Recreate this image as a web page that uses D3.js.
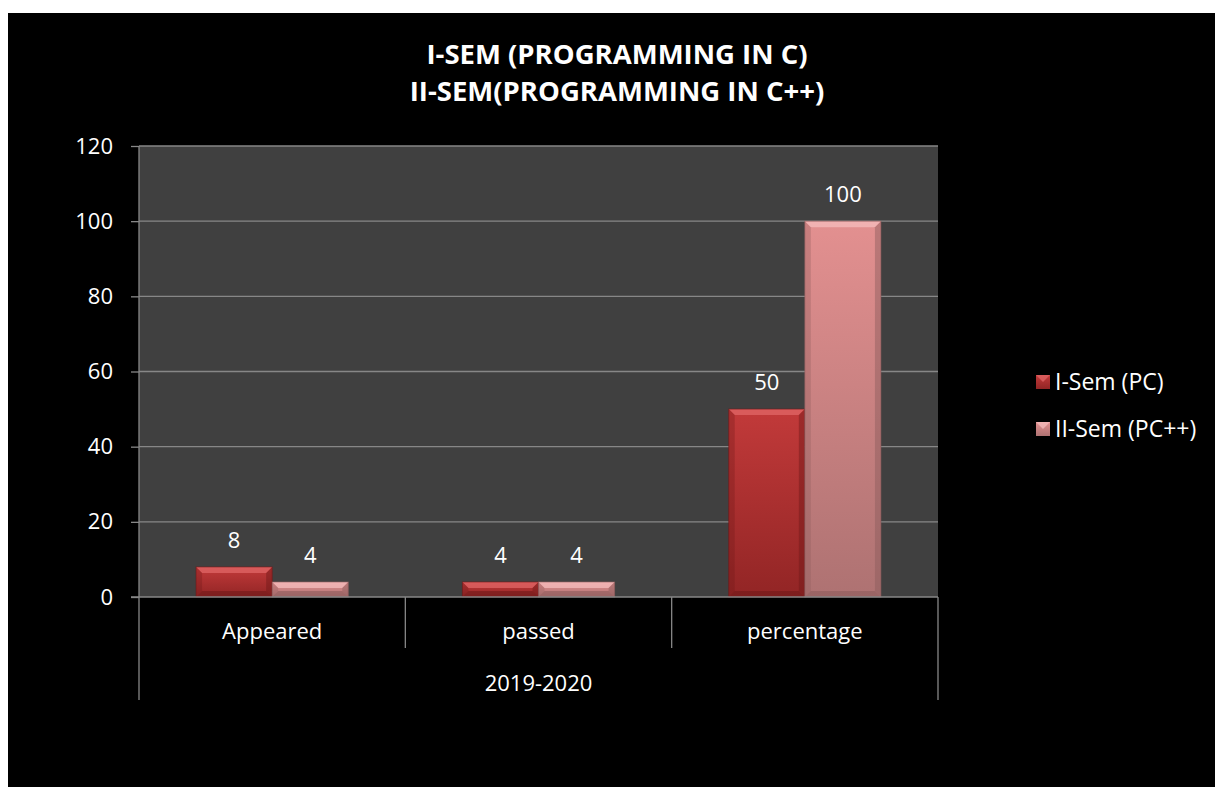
<!DOCTYPE html>
<html><head><meta charset="utf-8">
<script src="https://cdn.jsdelivr.net/npm/d3@7"></script>
<style>
html,body{margin:0;padding:0;background:#fff;}
svg{display:block;}
text{font-family:"Open Sans",Lato,sans-serif;fill:#fff;}
</style></head>
<body>
<script>
const categories = ["Appeared", "passed", "percentage"];
const groupLabel = "2019-2020";
const seriesNames = ["I-Sem (PC)", "II-Sem (PC++)"];
const sem1Values = [8, 4, 50];
const sem2Values = [4, 4, 100];
const yTicks = [0, 20, 40, 60, 80, 100, 120];
const titleLines = ["I-SEM (PROGRAMMING IN C)", "II-SEM(PROGRAMMING IN C++)"];

const W = 1215, H = 787;
const FS = "22px";
const svg = d3.select("body").append("svg").attr("width", W).attr("height", H);

// black chart area
svg.append("rect").attr("x", 8).attr("y", 13).attr("width", W - 8).attr("height", H - 13).attr("fill", "#000");

const plot = {left: 139, right: 938, top: 146, bottom: 597};
const y = d3.scaleLinear().domain([0, 120]).range([plot.bottom, plot.top]);
const x0 = d3.scaleBand().domain(categories).range([plot.left, plot.right]).paddingInner(0).paddingOuter(0);
const x1 = d3.scaleBand().domain(seriesNames).range([0, x0.bandwidth()]).paddingInner(0).paddingOuter(0.75);

// plot background
svg.append("rect").attr("x", plot.left).attr("y", plot.top).attr("width", plot.right - plot.left).attr("height", plot.bottom - plot.top).attr("fill", "#404040");

// gridlines
svg.append("g").selectAll("line").data(yTicks.filter(d => d > 0)).join("line")
  .attr("x1", plot.left).attr("x2", plot.right)
  .attr("y1", d => y(d)).attr("y2", d => y(d))
  .attr("stroke", "#878787").attr("stroke-width", 1.3);

// y axis
const yAxis = d3.axisLeft(y).tickValues(yTicks).tickSize(8).tickPadding(18).tickFormat(d3.format("d"));
const gy = svg.append("g").attr("transform", `translate(${plot.left},0)`).call(yAxis);
gy.select(".domain").remove();
gy.selectAll(".tick line").attr("stroke", "#878787").attr("stroke-width", 1.3);
gy.selectAll(".tick text").attr("fill", "#fff").style("font-size", FS).style("font-family", "'Open Sans', Lato, sans-serif");
svg.append("line").attr("x1", plot.left).attr("x2", plot.left).attr("y1", plot.top).attr("y2", 700)
  .attr("stroke", "#878787").attr("stroke-width", 1.3);

// gradients
const defs = svg.append("defs");
const colors = [
  {top: "#c23a3a", bottom: "#922525", hi: "#e36a6a", side: "#6e1818"},
  {top: "#e39090", bottom: "#ae7272", hi: "#f6c0c0", side: "#8a5a5a"}
];
colors.forEach((c, i) => {
  const g = defs.append("linearGradient").attr("id", "g" + i).attr("x1", 0).attr("y1", 0).attr("x2", 0).attr("y2", 1);
  g.append("stop").attr("offset", "0%").attr("stop-color", c.top);
  g.append("stop").attr("offset", "100%").attr("stop-color", c.bottom);
});

const rows = categories.map((c, i) => ({cat: c, vals: [sem1Values[i], sem2Values[i]]}));
const bars = [];
rows.forEach(r => r.vals.forEach((v, si) => bars.push({cat: r.cat, s: seriesNames[si], si, v})));

const bw = x1.bandwidth();
const bg = svg.append("g");
bars.forEach(b => {
  const bx = x0(b.cat) + x1(b.s);
  const by = y(b.v);
  const bh = y(0) - by;
  const c = colors[b.si];
  const d = Math.min(6, bh / 2);
  const g = bg.append("g");
  g.append("rect").attr("x", bx).attr("y", by).attr("width", bw).attr("height", bh).attr("fill", `url(#g${b.si})`);
  g.append("polygon").attr("points", [[bx, by], [bx + bw, by], [bx + bw - d, by + d], [bx + d, by + d]].join(" "))
    .attr("fill", c.hi).attr("opacity", 0.7);
  g.append("polygon").attr("points", [[bx, by], [bx + d, by + d], [bx + d, by + bh - d], [bx, by + bh]].join(" "))
    .attr("fill", c.side).attr("opacity", 0.3);
  g.append("polygon").attr("points", [[bx + bw, by], [bx + bw - d, by + d], [bx + bw - d, by + bh - d], [bx + bw, by + bh]].join(" "))
    .attr("fill", c.side).attr("opacity", 0.45);
  g.append("polygon").attr("points", [[bx, by + bh], [bx + d, by + bh - d], [bx + bw - d, by + bh - d], [bx + bw, by + bh]].join(" "))
    .attr("fill", c.side).attr("opacity", 0.55);
  g.append("rect").attr("x", bx).attr("y", by).attr("width", bw).attr("height", bh).attr("fill", "none")
    .attr("stroke", c.side).attr("stroke-opacity", 0.6).attr("stroke-width", 1);
  svg.append("text").attr("x", bx + bw / 2).attr("y", by - 19).attr("text-anchor", "middle")
    .style("font-size", FS).text(b.v);
});

// category axis
svg.append("line").attr("x1", plot.left - 8).attr("x2", plot.right).attr("y1", plot.bottom).attr("y2", plot.bottom)
  .attr("stroke", "#878787").attr("stroke-width", 1.6);
const seps = categories.slice(1).map(c => x0(c));
svg.append("g").selectAll("line").data(seps).join("line")
  .attr("x1", d => d).attr("x2", d => d).attr("y1", plot.bottom).attr("y2", 648)
  .attr("stroke", "#878787").attr("stroke-width", 1.3);
svg.append("line").attr("x1", plot.right).attr("x2", plot.right).attr("y1", plot.bottom).attr("y2", 700)
  .attr("stroke", "#878787").attr("stroke-width", 1.3);
svg.append("g").selectAll("text").data(categories).join("text")
  .attr("x", d => x0(d) + x0.bandwidth() / 2).attr("y", 639).attr("text-anchor", "middle")
  .style("font-size", FS).text(d => d);
svg.append("text").attr("x", (plot.left + plot.right) / 2).attr("y", 691).attr("text-anchor", "middle")
  .style("font-size", FS).text(groupLabel);

// title
svg.append("g").selectAll("text").data(titleLines).join("text")
  .attr("x", 617).attr("y", (d, i) => 64 + i * 37).attr("text-anchor", "middle")
  .style("font-size", "27.5px").style("font-weight", "bold").text(d => d);

// legend
const lg = svg.append("g");
seriesNames.forEach((s, i) => {
  const ly = 382 + i * 47;
  const c = colors[i];
  lg.append("rect").attr("x", 1036).attr("y", ly - 7).attr("width", 14).attr("height", 14).attr("fill", `url(#g${i})`);
  lg.append("polygon").attr("points", [[1036, ly - 7], [1050, ly - 7], [1043, ly]].join(" ")).attr("fill", c.hi).attr("opacity", 0.7);
  lg.append("text").attr("x", 1055).attr("y", ly + 8).style("font-size", "23px").text(s);
});
</script>
</body></html>
